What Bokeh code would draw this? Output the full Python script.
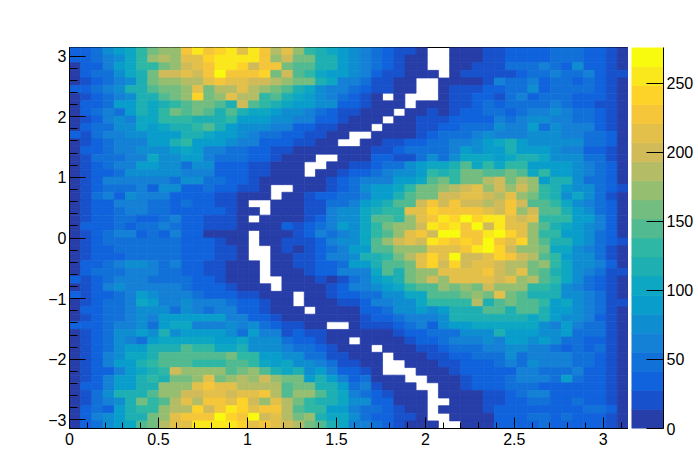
import numpy as np
from bokeh.embed import file_html
from bokeh.resources import INLINE
from bokeh.layouts import row
from bokeh.models import ColumnDataSource, LinearColorMapper, FixedTicker, Range1d
from bokeh.plotting import figure
from bokeh.transform import transform

# Colour-band index of each bin, top row first (-1 = empty bin, drawn white)
ROW_00 = [2,2,3,5,6,7,9,11,12,12,16,18,16,17,18,15,18,16,13,15,12,9,8,7,6, 5,4,3,2,1,1,0,-1,-1,0,0,0,1,1,2,2,2,2,3,3,3,2,2,1,0]
ROW_01 = [2,2,3,4,5,7,9,12,13,12,15,15,17,18,18,18,18,16,12,14,11,11,8,8,6, 5,4,3,2,1,0,0,-1,-1,0,0,0,1,1,2,2,2,2,3,3,3,2,2,1,0]
ROW_02 = [0,2,2,4,6,7,9,9,11,12,14,15,16,18,18,17,14,16,16,11,10,10,8,8,6, 5,4,3,2,1,0,0,-1,-1,0,0,1,1,1,3,3,3,4,3,2,5,2,2,1,0]
ROW_03 = [0,2,3,3,5,7,8,11,14,14,15,14,16,19,16,16,16,17,11,14,10,9,7,6,6, 5,4,2,1,1,0,0,0,-1,0,1,1,1,1,1,2,3,3,4,3,3,4,2,1,1]
ROW_04 = [0,1,2,3,4,5,8,11,12,12,13,13,15,16,15,15,14,14,13,12,11,11,8,7,4, 4,3,1,1,0,0,-1,-1,0,0,0,0,1,4,3,3,4,2,3,3,2,3,2,1,0]
ROW_05 = [2,2,3,4,5,8,8,10,11,11,12,15,11,13,13,15,13,12,11,10,8,7,5,4,4, 3,2,1,1,0,0,-1,-1,0,1,1,1,2,2,3,3,5,2,3,3,3,3,2,1,0]
ROW_06 = [0,1,2,3,4,5,8,8,10,11,12,17,11,12,15,13,13,9,10,8,7,6,5,4,3, 2,1,0,-1,0,-1,-1,-1,0,1,1,2,2,1,3,4,2,3,3,3,2,2,2,1,0]
ROW_07 = [0,2,2,3,6,6,8,7,8,9,10,11,11,10,8,14,10,9,8,7,6,6,5,5,2, 2,1,0,0,0,-1,0,0,0,1,1,2,3,2,3,3,3,3,4,3,2,2,1,1,0]
ROW_08 = [0,2,3,4,3,6,8,7,9,11,10,11,10,8,10,8,7,7,6,5,5,4,3,2,1, 1,0,0,0,-1,0,0,1,0,1,2,2,3,3,2,3,4,4,5,4,3,3,2,1,0]
ROW_09 = [0,1,2,4,5,4,7,7,9,9,9,8,8,8,9,6,6,6,5,5,4,4,2,2,1, 0,0,0,-1,0,0,1,1,1,2,2,2,2,4,3,4,5,5,4,4,3,3,2,1,0]
ROW_10 = [0,2,3,3,5,5,7,6,7,8,8,9,10,8,6,5,5,5,4,4,2,2,1,1,0, 0,0,-1,0,0,0,1,1,2,2,3,3,3,5,4,4,6,3,5,4,4,4,2,1,0]
ROW_11 = [2,1,3,4,4,5,5,6,6,6,8,8,7,6,6,5,4,3,3,2,2,1,1,0,0, -1,-1,0,0,0,0,1,2,3,3,3,4,5,4,4,4,5,5,5,4,4,3,3,2,0]
ROW_12 = [0,1,2,3,4,4,4,6,6,8,9,6,6,6,5,4,4,2,2,2,1,1,0,0,-1, -1,0,0,1,1,2,2,3,3,4,4,5,6,7,8,6,5,5,5,5,5,3,3,2,0]
ROW_13 = [0,2,2,3,4,4,5,5,5,6,7,6,4,4,3,3,2,2,1,1,0,0,0,0,0, 0,0,1,1,2,3,3,3,3,4,6,5,6,6,8,6,6,6,5,4,4,2,2,1,0]
ROW_14 = [0,1,3,3,3,4,4,7,5,5,6,6,4,3,3,3,2,2,1,0,0,0,-1,-1,0, 0,0,2,2,1,1,3,5,3,5,7,7,7,6,7,8,8,7,5,5,5,3,3,1,0]
ROW_15 = [0,1,2,3,4,4,6,6,5,5,3,5,5,2,2,2,1,1,0,0,0,-1,-1,0,0, 1,1,2,3,3,5,6,7,7,8,10,7,9,7,9,9,6,6,6,6,5,4,3,2,0]
ROW_16 = [0,1,2,2,3,5,5,5,5,5,4,4,4,2,2,2,1,1,0,0,0,-1,0,0,1, 2,2,3,4,5,5,6,9,8,9,11,11,10,10,11,10,7,9,6,6,5,4,3,2,0]
ROW_17 = [0,1,2,4,4,4,4,4,4,3,5,5,3,3,2,2,1,0,0,0,0,0,0,1,2, 3,4,4,4,6,6,7,10,11,9,11,11,13,14,11,13,12,6,8,8,5,3,3,2,0]
ROW_18 = [0,1,2,3,3,3,4,2,5,5,2,2,3,2,2,1,1,0,-1,-1,0,0,0,1,2, 3,5,6,6,7,9,11,11,12,13,14,15,12,14,12,14,12,9,8,6,5,5,3,2,1]
ROW_19 = [0,1,3,4,2,5,4,4,4,2,2,2,2,1,1,0,0,0,-1,0,0,1,2,2,3, 3,4,6,6,8,10,11,11,14,14,15,15,14,13,15,12,11,9,8,5,7,5,3,1,0]
ROW_20 = [0,1,2,2,4,4,4,3,3,2,3,2,2,1,1,0,-1,-1,0,0,0,1,1,3,3, 4,6,7,8,10,10,14,16,14,16,14,14,13,14,16,14,10,10,9,7,5,4,3,2,0]
ROW_21 = [0,1,2,2,3,4,4,3,3,2,2,2,2,2,1,0,0,-1,0,0,0,1,1,4,5, 5,7,8,9,9,15,15,17,16,16,16,16,15,14,16,12,14,10,10,8,6,5,3,2,0]
ROW_22 = [0,1,2,2,3,3,2,2,3,4,2,2,1,1,1,0,-1,0,0,0,0,1,2,4,5, 5,7,10,10,9,12,15,16,18,17,19,17,18,18,15,14,15,9,9,9,6,6,4,2,0]
ROW_23 = [0,2,2,2,3,2,3,3,4,3,2,2,1,1,1,0,0,0,0,2,1,2,3,4,6, 5,7,9,11,12,12,14,18,17,18,16,19,14,18,15,15,12,10,8,7,6,5,4,2,0]
ROW_24 = [0,1,2,3,4,4,2,3,2,4,2,2,0,0,0,0,-1,0,0,0,1,2,4,3,4, 5,7,9,10,12,15,16,14,19,19,16,16,18,19,17,15,12,9,9,6,6,5,3,2,0]
ROW_25 = [0,1,2,3,3,3,3,3,3,3,2,2,2,1,0,0,-1,0,0,1,1,1,2,4,5, 5,7,10,12,14,15,14,18,17,16,17,16,19,16,15,17,12,10,8,8,6,5,3,2,1]
ROW_26 = [0,1,2,2,3,3,3,3,3,3,2,2,2,1,1,0,-1,-1,0,1,0,1,2,3,4, 6,6,10,10,12,12,12,15,15,15,16,18,19,17,14,12,12,11,7,7,5,4,3,1,0]
ROW_27 = [0,1,2,2,2,3,3,3,3,3,2,2,2,1,1,0,-1,-1,0,0,1,1,2,4,4, 5,8,8,9,11,13,15,17,15,19,14,14,15,17,16,14,13,10,9,6,5,5,3,1,0]
ROW_28 = [0,2,2,3,4,5,5,4,3,4,2,2,1,1,0,0,0,-1,0,0,1,1,2,2,3, 6,6,8,10,10,11,15,17,14,17,14,15,15,14,13,13,11,12,9,7,5,5,4,2,0]
ROW_29 = [0,2,3,3,3,4,4,4,3,3,2,2,1,1,0,0,0,-1,0,0,0,1,2,2,4, 4,4,7,10,8,11,12,12,15,15,15,15,16,14,13,15,11,10,8,7,5,4,3,1,1]
ROW_30 = [2,1,2,3,4,4,4,3,3,3,3,2,2,1,0,0,0,-1,-1,0,0,0,1,0,1, 3,4,6,7,8,11,12,14,12,15,15,15,15,14,15,12,13,10,9,7,5,3,2,1,0]
ROW_31 = [0,1,2,4,5,4,4,4,4,4,3,2,2,2,1,0,0,0,-1,0,0,0,0,1,2, 4,4,5,6,7,9,10,10,12,11,12,11,14,12,12,12,9,9,8,5,4,3,2,1,0]
ROW_32 = [2,1,2,2,3,4,6,5,4,4,4,3,2,2,2,1,1,0,0,0,-1,0,0,1,2, 2,3,3,5,5,7,7,10,10,10,11,12,11,15,11,10,8,8,8,5,5,4,3,1,0]
ROW_33 = [0,1,2,3,3,4,7,6,4,4,5,4,4,4,3,2,2,1,0,0,-1,0,0,0,1, 1,2,4,4,5,5,7,9,9,9,9,13,8,10,11,10,10,9,6,7,5,4,3,1,1]
ROW_34 = [0,2,2,3,3,4,5,5,5,3,5,4,3,4,4,2,2,1,0,0,0,-1,0,0,0, 0,2,2,3,5,5,6,5,6,8,8,8,10,10,8,10,10,8,6,6,5,4,3,1,0]
ROW_35 = [0,1,2,3,3,4,5,4,6,6,6,6,6,6,4,4,2,2,1,0,0,0,0,0,0, 0,1,2,2,3,4,4,4,5,8,8,8,8,8,8,8,7,8,6,5,5,4,2,1,0]
ROW_36 = [2,2,2,3,4,4,5,3,6,7,7,4,4,4,5,4,5,3,2,1,1,0,0,-1,-1, 0,1,1,1,2,3,4,2,5,6,6,7,7,7,7,7,7,5,4,6,4,3,3,1,0]
ROW_37 = [0,1,2,3,5,5,6,5,8,5,6,6,6,6,5,3,6,4,4,1,2,1,1,0,0, 0,0,0,0,1,2,2,3,3,3,5,5,5,8,6,6,6,5,5,6,3,3,3,1,0]
ROW_38 = [0,1,2,3,5,4,3,6,7,7,7,7,7,6,6,7,5,5,5,3,2,2,1,0,0, -1,0,0,0,0,1,2,2,3,4,4,4,5,4,6,6,5,6,5,3,3,2,2,1,0]
ROW_39 = [0,1,2,3,5,6,6,8,8,8,10,9,9,7,7,8,5,5,5,4,3,3,2,1,0, 0,0,-1,0,0,0,1,1,2,3,3,3,4,4,5,5,4,4,3,2,3,2,3,1,0]
ROW_40 = [0,1,2,4,5,7,7,8,10,10,10,10,10,10,11,9,9,6,6,5,5,3,3,1,1, 0,0,0,-1,0,0,0,1,1,2,2,3,3,3,5,3,4,4,4,4,3,3,2,1,0]
ROW_41 = [0,1,2,4,6,6,8,9,10,10,10,9,9,9,10,10,9,7,6,7,5,5,4,3,1, 1,0,0,-1,-1,0,0,0,1,1,2,2,2,3,4,3,5,4,4,4,3,3,2,1,0]
ROW_42 = [0,1,2,2,4,6,7,8,9,14,12,12,12,12,10,11,12,10,8,7,8,5,6,4,2, 2,1,0,-1,-1,-1,0,0,0,1,2,2,2,2,2,4,4,3,3,3,4,2,2,1,0]
ROW_43 = [0,1,2,4,6,6,8,9,8,11,11,12,15,11,12,13,12,14,12,11,11,6,8,6,4, 2,3,0,0,0,-1,-1,0,0,0,1,2,2,2,3,4,4,4,3,6,3,2,2,1,0]
ROW_44 = [0,2,2,4,6,6,8,8,12,12,12,15,16,15,15,13,13,13,13,10,11,11,8,8,6, 3,4,1,0,0,0,-1,-1,0,0,1,2,2,2,3,3,3,2,2,2,2,2,2,1,0]
ROW_45 = [0,1,3,5,8,8,8,10,12,12,14,14,15,15,14,15,15,16,13,10,12,12,10,8,7, 4,3,2,1,0,0,0,-1,0,0,0,0,1,1,2,3,4,4,2,2,2,2,2,1,0]
ROW_46 = [0,1,3,4,5,8,11,9,10,13,15,13,16,16,15,17,14,12,15,13,11,9,8,8,7, 5,5,2,2,0,0,0,-1,-1,0,0,0,1,1,2,2,3,3,2,2,3,2,2,1,0]
ROW_47 = [0,2,3,2,6,8,9,9,12,13,13,17,14,16,18,17,15,16,16,13,10,9,9,6,6, 4,3,3,2,1,0,0,-1,0,0,0,0,1,2,2,2,2,2,2,2,2,3,3,2,0]
ROW_48 = [0,2,4,5,6,8,8,11,12,15,16,16,16,19,17,16,19,14,15,13,11,12,8,7,7, 5,3,2,2,1,1,0,-1,-1,0,0,0,0,2,2,2,3,3,2,3,2,2,2,1,0]
ROW_49 = [0,2,3,5,6,7,10,11,13,15,15,18,18,18,18,17,15,16,15,14,13,11,10,8,7, 4,4,3,2,1,0,0,0,-1,-1,0,0,0,2,2,2,2,3,2,2,2,2,2,1,0]

ROWS = [ROW_00,ROW_01,ROW_02,ROW_03,ROW_04,ROW_05,ROW_06,ROW_07,ROW_08,ROW_09,
        ROW_10,ROW_11,ROW_12,ROW_13,ROW_14,ROW_15,ROW_16,ROW_17,ROW_18,ROW_19,
        ROW_20,ROW_21,ROW_22,ROW_23,ROW_24,ROW_25,ROW_26,ROW_27,ROW_28,ROW_29,
        ROW_30,ROW_31,ROW_32,ROW_33,ROW_34,ROW_35,ROW_36,ROW_37,ROW_38,ROW_39,
        ROW_40,ROW_41,ROW_42,ROW_43,ROW_44,ROW_45,ROW_46,ROW_47,ROW_48,ROW_49]
for n, r in enumerate(ROWS):
    assert len(r) == 50, (n, len(r))

X_TICKS = [0, 0.5, 1, 1.5, 2, 2.5, 3]
Y_TICKS = [-3, -2, -1, 0, 1, 2, 3]
Z_TICKS = [0, 50, 100, 150, 200, 250]
Z_MAX = 276
N_BANDS = 20

# ROOT kBird palette stops
STOP_R = [0.2082, 0.0592, 0.0780, 0.0232, 0.1802, 0.5301, 0.8186, 0.9956, 0.9764]
STOP_G = [0.1664, 0.3599, 0.5041, 0.6419, 0.7178, 0.7492, 0.7328, 0.7862, 0.9832]
STOP_B = [0.5293, 0.8684, 0.8385, 0.7914, 0.6425, 0.4662, 0.3499, 0.1968, 0.0539]

FONT = "Liberation Sans"
FS = "16px"

stops = np.linspace(0, 1, 9)
palette = []
for b in range(N_BANDS):
    t = int((b + 0.99) * 255 / N_BANDS) / 254
    rgb = [int(round(255 * np.interp(t, stops, s))) for s in (STOP_R, STOP_G, STOP_B)]
    palette.append("#%02x%02x%02x" % tuple(rgb))

step = Z_MAX / N_BANDS
mapper = LinearColorMapper(palette=palette, low=0, high=Z_MAX)

nx, ny = 50, 50
xe = np.linspace(0, np.pi, nx + 1)
ye = np.linspace(np.pi, -np.pi, ny + 1)
left, right, top, bottom, z = [], [], [], [], []
for i, r in enumerate(ROWS):
    for j, band in enumerate(r):
        if band < 0:
            continue
        left.append(xe[j]); right.append(xe[j + 1])
        top.append(ye[i]); bottom.append(ye[i + 1])
        z.append((band + 0.5) * step)
src = ColumnDataSource(dict(left=left, right=right, top=top, bottom=bottom, z=z))

p = figure(frame_width=559, frame_height=381, min_border_left=69, min_border_right=0,
           min_border_top=47, min_border_bottom=48, output_backend="svg", toolbar_location=None,
           x_range=Range1d(0, np.pi), y_range=Range1d(-np.pi, np.pi), background_fill_color="white")
p.quad(left="left", right="right", top="top", bottom="bottom", source=src,
       fill_color=transform("z", mapper), line_color=transform("z", mapper), line_width=0.7)
p.grid.visible = False
p.outline_line_color = "black"
p.outline_line_width = 1

for ax, major, minor, ticks, mins in (
    (p.xaxis[0], 11, 6, X_TICKS, [round(k * 0.1, 1) for k in range(0, 32)]),
    (p.yaxis[0], 16, 8, Y_TICKS, [round(k * 0.2, 1) for k in range(-15, 16)]),
):
    ax.ticker = FixedTicker(ticks=ticks, minor_ticks=mins)
    ax.major_tick_in = major; ax.major_tick_out = 0
    ax.minor_tick_in = minor; ax.minor_tick_out = 0
    ax.major_tick_line_color = "black"; ax.minor_tick_line_color = "black"
    ax.axis_line_color = "black"
    ax.major_label_text_font = FONT
    ax.major_label_text_font_size = FS
    ax.major_label_text_color = "black"
p.xaxis[0].major_label_standoff = 4
p.yaxis[0].major_label_standoff = 3

# colour scale panel
bands = list(range(N_BANDS))
cb_src = ColumnDataSource(dict(bottom=[b * step for b in bands], top=[(b + 1) * step for b in bands],
                               z=[(b + 0.5) * step for b in bands]))
cb = figure(frame_width=32, frame_height=381, min_border_left=3, min_border_right=34,
            min_border_top=47, min_border_bottom=48, output_backend="svg", toolbar_location=None,
            x_range=Range1d(0, 1), y_range=Range1d(0, Z_MAX), y_axis_location="right",
            x_axis_location=None)
cb.quad(left=0, right=1, bottom="bottom", top="top", source=cb_src,
        fill_color=transform("z", mapper), line_color=transform("z", mapper), line_width=0.7)
cb.grid.visible = False
cb.outline_line_color = None
a = cb.yaxis[0]
a.ticker = FixedTicker(ticks=Z_TICKS)
a.major_tick_in = 17; a.major_tick_out = 0
a.minor_tick_in = 0; a.minor_tick_out = 0
a.major_tick_line_color = "black"; a.axis_line_color = "black"
a.major_label_text_font = FONT
a.major_label_text_font_size = FS
a.major_label_text_color = "black"
a.major_label_standoff = 3

open("out.html", "w").write(file_html(row(p, cb), INLINE))
